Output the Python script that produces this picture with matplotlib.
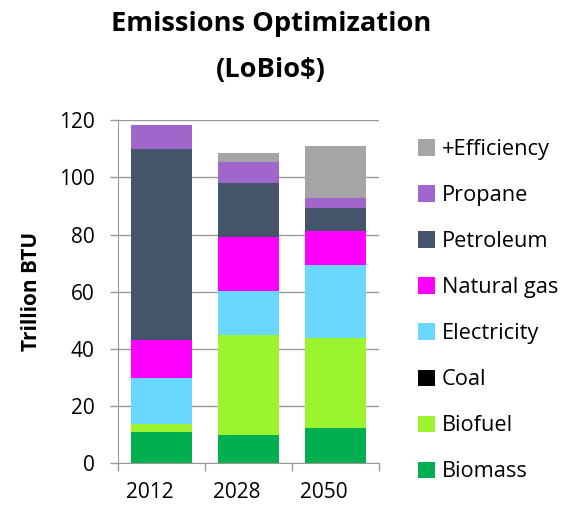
import matplotlib.pyplot as plt
import matplotlib.transforms as mtransforms
import numpy as np
from matplotlib.patches import Patch

plt.rcParams['font.family'] = ['Open Sans', 'DejaVu Sans']

years = ['2012', '2028', '2050']
biomass = [11, 9.8, 12.1]
biofuel = [2.5, 34.9, 31.7]
coal = [0, 0, 0]
electricity = [16.3, 15.4, 25.6]
natural_gas = [13.1, 19.2, 11.7]
petroleum = [67, 18.9, 8.2]
propane = [8.5, 7.2, 3.6]
efficiency = [0, 3.1, 18.1]

series = [
    ('Biomass', biomass, '#00B050'),
    ('Biofuel', biofuel, '#9BF42E'),
    ('Coal', coal, '#000000'),
    ('Electricity', electricity, '#69D7FF'),
    ('Natural gas', natural_gas, '#FF00FF'),
    ('Petroleum', petroleum, '#44546A'),
    ('Propane', propane, '#A066CC'),
    ('+Efficiency', efficiency, '#A5A5A5'),
]

fig = plt.figure(figsize=(5.75, 5.07), dpi=100)
ax = fig.add_axes([0.2052, 0.0868, 0.454, 0.676])

x = np.arange(len(years))
bottom = np.zeros(len(years))
for name, vals, col in series:
    ax.bar(x, vals, 0.71, bottom=bottom, color=col, zorder=3)
    bottom += np.array(vals)

ax.set_xlim(-0.5, 2.5)
ax.set_ylim(0, 120)
ax.set_yticks(range(0, 121, 20))
ax.yaxis.grid(True, color='#999999', linewidth=1, zorder=0)
ax.set_xticks(x)
ax.set_xticklabels(years, fontsize=15)
ax.tick_params(axis='x', length=0, pad=14)
# labels in the original sit a bit left of the bar centres
offset = mtransforms.ScaledTranslation(-0.12, 0, fig.dpi_scale_trans)
for lab in ax.get_xticklabels():
    lab.set_transform(lab.get_transform() + offset)
ax.set_xticks([-0.5, 0.5, 1.5, 2.5], minor=True)
ax.tick_params(axis='x', which='minor', length=6, color='#999999', width=1)
ax.tick_params(axis='y', labelsize=15, length=6, color='#999999', width=1, pad=11)
for s in ['top', 'right']:
    ax.spines[s].set_visible(False)
for s in ['left', 'bottom']:
    ax.spines[s].set_color('#999999')
ax.set_ylabel('Trillion BTU', fontsize=15, fontweight='bold')
ax.yaxis.set_label_coords(-0.29, 0.5)

fig.text(0.471, 0.952, 'Emissions Optimization', ha='center', va='center',
         fontsize=19.6, fontweight='bold')
fig.text(0.471, 0.862, '(LoBio$)', ha='center', va='center',
         fontsize=19.6, fontweight='bold')

handles = [Patch(facecolor=c, label=n) for n, v, c in series[::-1]]
fig.legend(handles=handles, loc='upper left', bbox_to_anchor=(0.727, 0.726),
           frameon=False, fontsize=15.7, handlelength=0.78, handleheight=0.78,
           handletextpad=0.3, labelspacing=1.15, borderaxespad=0, borderpad=0)

plt.savefig('out.png', dpi=100)
